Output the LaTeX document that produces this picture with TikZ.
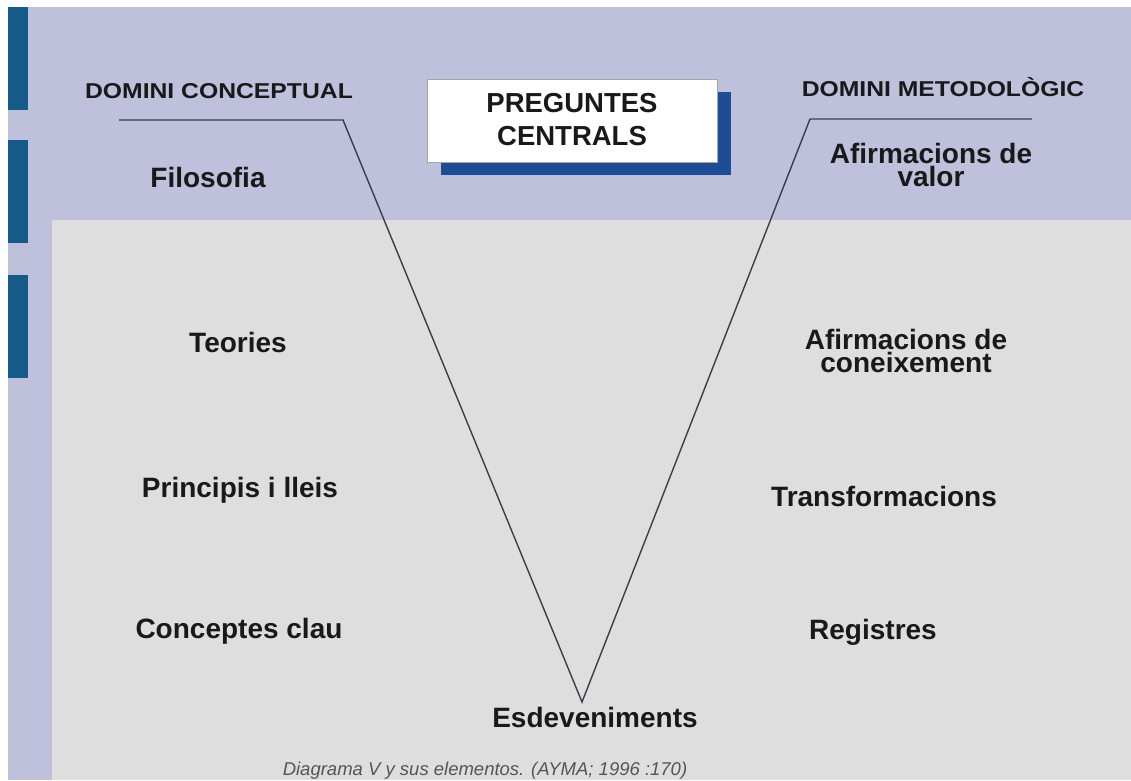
\documentclass[tikz,border=0pt]{standalone}
\usepackage{fontspec}
\setmainfont{Liberation Sans}
\newfontfamily\widefont{Liberation Sans}[FakeStretch=1.15]
\definecolor{lavender}{HTML}{BEC0DC}
\definecolor{panelgray}{HTML}{DEDEDE}
\definecolor{barblue}{HTML}{165A8A}
\definecolor{shadowblue}{HTML}{1F4D95}
\definecolor{vline}{HTML}{3C3C4C}
\definecolor{capgray}{HTML}{555555}
\begin{document}
\begin{tikzpicture}[x=1pt,y=-1pt,
  lbl/.style={font=\fontsize{28}{23}\selectfont\bfseries, align=center, inner sep=0pt, anchor=base, text=black!90},
  headlbl/.style={font=\widefont\fontsize{21.5}{24}\selectfont\bfseries, inner sep=0pt, anchor=base, text=black!90},
  vstroke/.style={draw=vline, line width=1.4pt},
  pbox/.style={draw=gray!70, fill=white, line width=0.8pt, minimum width=290pt, minimum height=83pt, inner sep=0pt, align=center,
    font=\fontsize{27.5}{33}\selectfont\bfseries}]
\useasboundingbox (0,0) rectangle (1131,780);
% backgrounds
\fill[white] (0,0) rectangle (1131,780);
\fill[lavender] (8,7) rectangle (1131,780);
\fill[panelgray] (52,220) rectangle (1131,780);
% side bars
\fill[barblue] (8,7) rectangle (28,110);
\fill[barblue] (8,140) rectangle (28,243);
\fill[barblue] (8,275) rectangle (28,378);
% central questions box with its shadow
\node[pbox, text=white, draw=none, fill=none] (pq) at (572,120.5) {\phantom{PREGUNTES}\\\phantom{CENTRALS}};
\fill[shadowblue] ([xshift=14pt,yshift=-13pt]pq.north west) rectangle ([xshift=14pt,yshift=-13pt]pq.south east);
\node[pbox, text=black!90] (pqt) at (pq.center) {\raisebox{3pt}{PREGUNTES}\\\raisebox{3pt}{CENTRALS}};
% V diagram
\coordinate (lt) at (119,120);
\coordinate (ltc) at (343,120);
\coordinate (apex) at (582,702);
\coordinate (rtc) at (810,119);
\coordinate (rt) at (1032,119);
\draw[vstroke] (lt) -- (ltc) -- (apex) -- (rtc) -- (rt);
% headings
\node[headlbl] (dc) at (219,98) {DOMINI CONCEPTUAL};
\node[headlbl] (dm) at (943,96) {DOMINI METODOLÒGIC};
% conceptual side
\node[lbl] (fil) at (208,187) {Filosofia};
\node[lbl] (teo) at (238,352) {Teories};
\node[lbl] (pri) at (240,497) {Principis i lleis};
\node[lbl] (con) at (239,638) {Conceptes clau};
% methodological side (two-line labels sit on their last baseline)
\node[lbl] (afv) at (931,186) {Afirmacions de\\valor};
\node[lbl] (afc) at (906,372) {Afirmacions de\\coneixement};
\node[lbl] (tra) at (884,506) {Transformacions};
\node[lbl] (reg) at (873,639) {Registres};
% events at the vertex
\node[lbl] (esd) at (595,727) {Esdeveniments};
% caption
\node[font=\fontsize{18.5}{20}\selectfont\itshape, text=capgray, inner sep=0pt, anchor=base] (cap) at (485,775) {Diagrama V y sus elementos. (AYMA; 1996 :170)};
\end{tikzpicture}
\end{document}
